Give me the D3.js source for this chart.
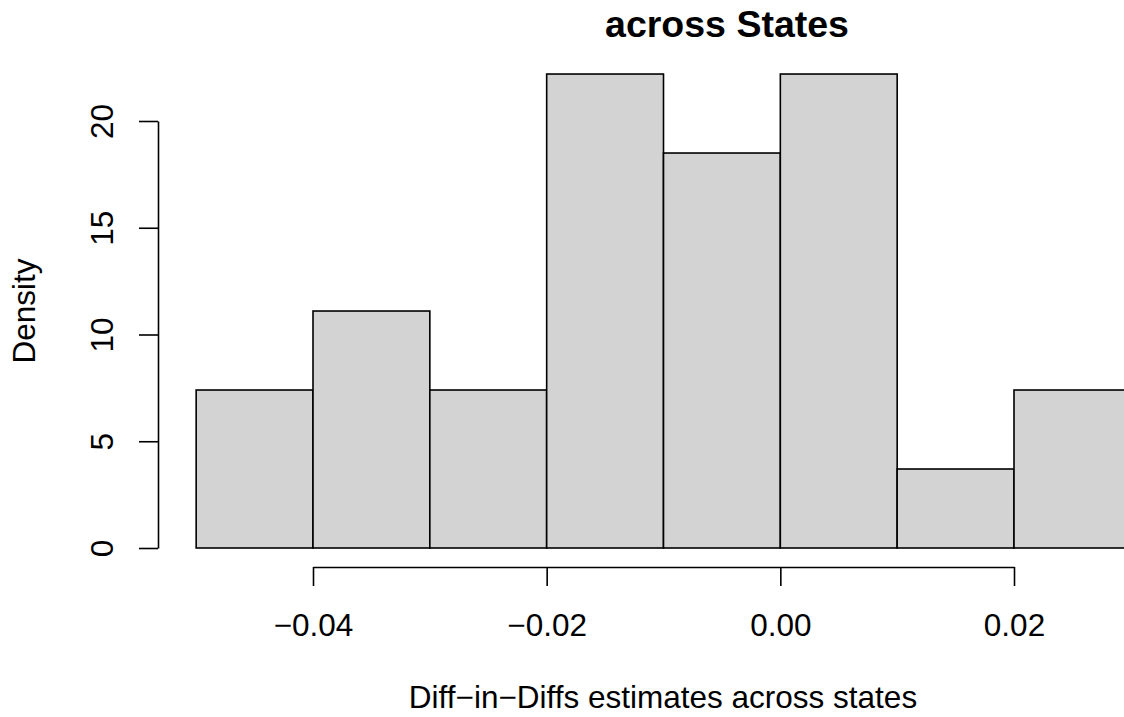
<!DOCTYPE html>
<html>
<head>
<meta charset="utf-8">
<script src="https://cdn.jsdelivr.net/npm/d3@7"></script>
<style>
  body { margin: 0; background: #fff; }
  svg { display: block; font-family: "Liberation Sans", Arial, Helvetica, sans-serif; }
</style>
</head>
<body>
<svg width="1124" height="717"></svg>
<script>
    // histogram bins (bin edges) and the density of each bin
    var binStart = [-0.05, -0.04, -0.03, -0.02, -0.01, 0.00, 0.01, 0.02];
    var binEnd   = [-0.04, -0.03, -0.02, -0.01, 0.00, 0.01, 0.02, 0.03];
    var density  = [7.4, 11.1, 7.4, 22.2, 18.5, 22.2, 3.7, 7.4];

    var xTicks = [-0.04, -0.02, 0.00, 0.02];
    var yTicks = [0, 5, 10, 15, 20];

    var titleText = "across States";
    var xLabel = "Diff\u2212in\u2212Diffs estimates across states";
    var yLabel = "Density";

    var svg = d3.select("svg");

    var x = d3.scaleLinear().domain([-0.04, 0.02]).range([313, 1014]);
    var y = d3.scaleLinear().domain([0, 20]).range([548, 121]);

    var bins = density.map(function(d, i) {
        return { x0: binStart[i], x1: binEnd[i], d: d };
    });

    svg.selectAll("rect.bar")
        .data(bins)
        .enter()
        .append("rect")
        .attr("class", "bar")
        .attr("x", function(d) { return x(d.x0); })
        .attr("y", function(d) { return y(d.d); })
        .attr("width", function(d) { return x(d.x1) - x(d.x0); })
        .attr("height", function(d) { return y(0) - y(d.d); })
        .attr("fill", "#d3d3d3")
        .attr("stroke", "#000")
        .attr("stroke-width", 1.6);

    // x axis, drawn below the plot like R does
    var xAxis = svg.append("g")
        .attr("transform", "translate(0,567)")
        .call(d3.axisBottom(x)
            .tickValues(xTicks)
            .tickFormat(d3.format(".2f"))
            .tickSize(19)
            .tickSizeOuter(0));
    xAxis.selectAll("text")
        .attr("y", 69)
        .attr("dy", 0)
        .attr("fill", "#000")
        .style("font-size", "31.5px");

    // y axis with rotated labels
    var yAxis = svg.append("g")
        .attr("transform", "translate(158,0)")
        .call(d3.axisLeft(y)
            .tickValues(yTicks)
            .tickSize(19)
            .tickSizeOuter(0));
    yAxis.selectAll("text")
        .attr("x", 0)
        .attr("dy", 0)
        .attr("text-anchor", "middle")
        .attr("transform", "translate(-45,0) rotate(-90)")
        .attr("fill", "#000")
        .style("font-size", "31.5px");

    svg.selectAll(".domain, .tick line")
        .attr("stroke", "#000")
        .attr("stroke-width", 1.6);

    svg.append("text")
        .attr("x", 727)
        .attr("y", 37)
        .attr("text-anchor", "middle")
        .style("font-size", "37.5px")
        .style("font-weight", "bold")
        .text(titleText);

    svg.append("text")
        .attr("x", 663)
        .attr("y", 708)
        .attr("text-anchor", "middle")
        .style("font-size", "31.5px")
        .text(xLabel);

    svg.append("text")
        .attr("transform", "translate(35,311) rotate(-90)")
        .attr("text-anchor", "middle")
        .style("font-size", "31.5px")
        .text(yLabel);
</script>
</body>
</html>
